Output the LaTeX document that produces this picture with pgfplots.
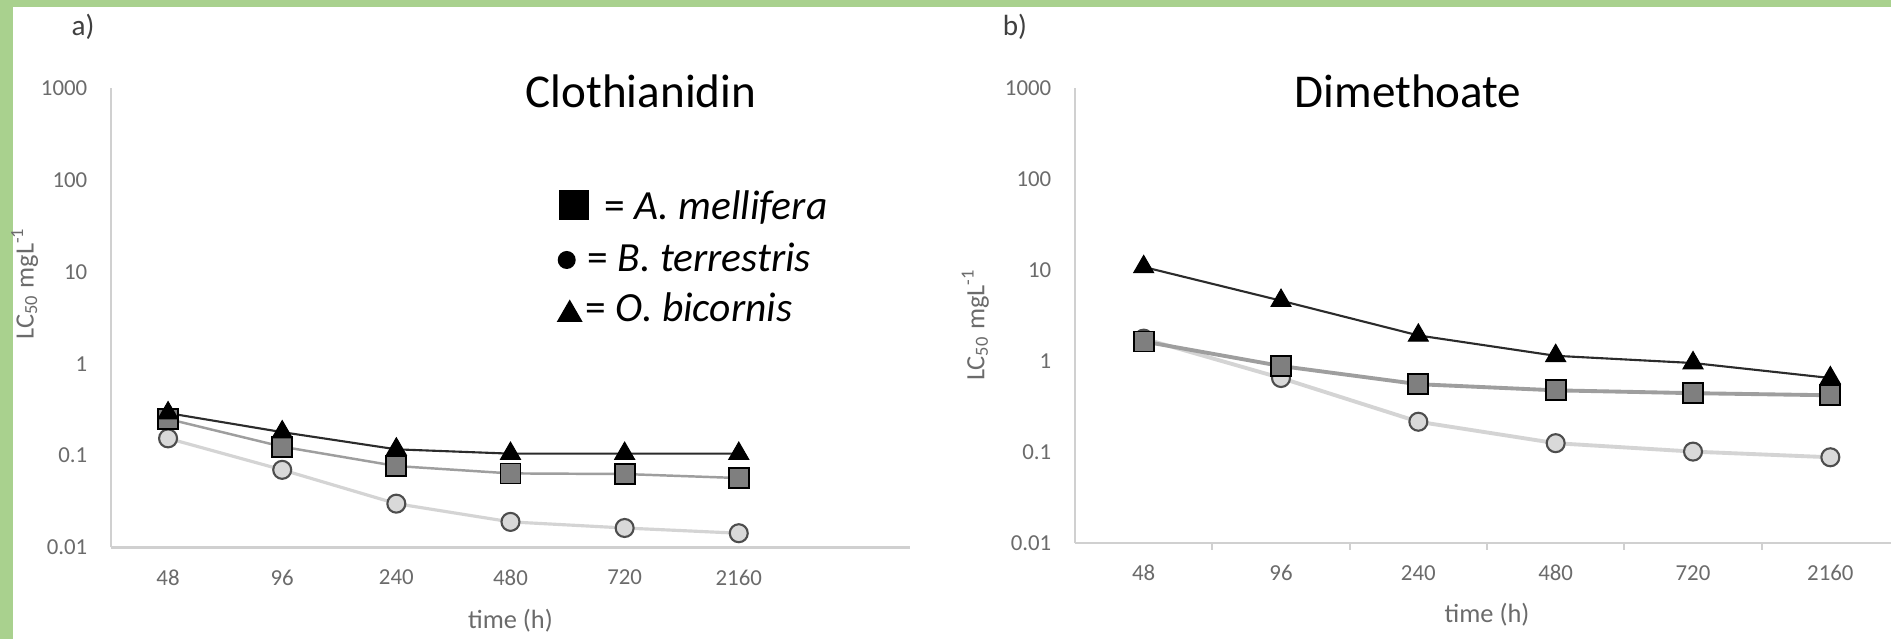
\documentclass[border=0pt]{standalone}
\usepackage{pgfplots}
\usepackage{pgfplotstable}
\pgfplotsset{compat=1.18}
\usepackage{fontspec}
\setmainfont{Carlito}

\definecolor{frame}{HTML}{A9D18E}
\definecolor{axisgray}{HTML}{D0D0D0}
\definecolor{ticktext}{HTML}{6B6B6B}
\definecolor{paneltext}{HTML}{404040}
\definecolor{sqfill}{HTML}{7F7F7F}
\definecolor{sqline}{HTML}{9E9E9E}
\definecolor{cifill}{HTML}{D9D9D9}
\definecolor{ciedge}{HTML}{4D4D4D}
\definecolor{ciline}{HTML}{D4D4D4}
\definecolor{trline}{HTML}{2B2B2B}

% LC50 (mg/L) at 48, 96, 240, 480, 720 and 2160 h
\pgfplotstableread{
x mel ter bic
0 0.25  0.154  0.29
1 0.125 0.070  0.18
2 0.077 0.030  0.117
3 0.064 0.019  0.105
4 0.063 0.0163 0.105
5 0.057 0.0143 0.105
}\clothianidin

\pgfplotstableread{
x mel ter bic
0 1.64  1.76   10.8
1 0.88  0.65   4.6
2 0.556 0.215  1.91
3 0.476 0.125  1.14
4 0.443 0.101  0.95
5 0.42  0.0875 0.65
}\dimethoate

\begin{document}
\begin{tikzpicture}
  % frame
  \fill[frame] (0,0) rectangle (189.1mm,-63.9mm);
  \fill[white] (1.3mm,-0.7mm) rectangle (189.1mm,-63.9mm);

  % a) Clothianidin
  \begin{axis}[
      at={(11.1mm,-54.75mm)}, anchor=south west,
      scale only axis, clip=false,
      width=79.9mm, height=45.95mm,
      xmin=-0.5, xmax=6.5,
      ymode=log, ymin=0.01, ymax=1000,
      axis x line*=bottom, axis y line*=left,
      axis line style={axisgray, line width=0.6pt},
      xtick={0,1,2,3,4,5}, xticklabels={48,96,240,480,720,2160},
      ytick={0.01,0.1,1,10,100,1000},
      yticklabels={0.01,0.1,1,10,100,1000},
      minor tick num=0,
      major tick length=0pt, minor tick length=0pt,
      tick label style={font=\fontsize{6.5}{7}\selectfont, text=ticktext},
      xticklabel style={anchor=center, inner sep=0pt, yshift=-3mm},
      yticklabel style={anchor=east, inner sep=0pt, xshift=-2.3mm},
      xlabel={time (h)},
      ylabel={LC\textsubscript{50} mgL\textsuperscript{-1}},
      xlabel style={font=\fontsize{7.5}{8}\selectfont, text=ticktext,
        at={(axis description cs:0.5,-0.159)}, anchor=center},
      ylabel style={font=\fontsize{7.5}{8}\selectfont, text=ticktext,
        at={(axis description cs:-0.108,0.575)}, anchor=center},
    ]
    \addplot[color=ciline, line width=0.9pt, mark=*, mark size=0.9mm,
      mark options={fill=cifill, draw=ciedge, line width=0.6pt}]
      table[x=x, y=ter] {\clothianidin};
    \addplot[color=sqline, line width=0.7pt, mark=square*, mark size=1mm,
      mark options={fill=sqfill, draw=black, line width=0.5pt}]
      table[x=x, y=mel] {\clothianidin};
    \addplot[color=trline, line width=0.6pt, mark=triangle*, mark size=1.15mm,
      mark options={fill=black, draw=black, line width=0.3pt}]
      table[x=x, y=bic] {\clothianidin};
  \end{axis}

  % b) Dimethoate
  \begin{axis}[
      at={(107.5mm,-54.3mm)}, anchor=south west,
      scale only axis, clip=false,
      width=82.4mm, height=45.5mm,
      xmin=-0.5, xmax=5.5,
      ymode=log, ymin=0.01, ymax=1000,
      axis x line*=bottom, axis y line*=left,
      axis line style={axisgray, line width=0.6pt},
      xtick={0,1,2,3,4,5}, xticklabels={48,96,240,480,720,2160},
      ytick={0.01,0.1,1,10,100,1000},
      yticklabels={0.01,0.1,1,10,100,1000},
      minor tick num=0,
      major tick length=0pt, minor tick length=0pt,
      extra x ticks={0.5,1.5,2.5,3.5,4.5}, extra x tick labels={},
      extra x tick style={major tick length=0.7mm, tick align=outside,
        tick style={axisgray, line width=0.5pt}},
      tick label style={font=\fontsize{6.5}{7}\selectfont, text=ticktext},
      xticklabel style={anchor=center, inner sep=0pt, yshift=-3mm},
      yticklabel style={anchor=east, inner sep=0pt, xshift=-2.3mm},
      xlabel={time (h)},
      ylabel={LC\textsubscript{50} mgL\textsuperscript{-1}},
      xlabel style={font=\fontsize{7.5}{8}\selectfont, text=ticktext,
        at={(axis description cs:0.5,-0.158)}, anchor=center},
      ylabel style={font=\fontsize{7.5}{8}\selectfont, text=ticktext,
        at={(axis description cs:-0.121,0.48)}, anchor=center},
    ]
    \addplot[color=ciline, line width=1.1pt, mark=*, mark size=0.9mm,
      mark options={fill=cifill, draw=ciedge, line width=0.6pt}]
      table[x=x, y=ter] {\dimethoate};
    \addplot[color=sqline, line width=1.1pt, mark=square*, mark size=1mm,
      mark options={fill=sqfill, draw=black, line width=0.5pt}]
      table[x=x, y=mel] {\dimethoate};
    \addplot[color=trline, line width=0.6pt, mark=triangle*, mark size=1.15mm,
      mark options={fill=black, draw=black, line width=0.3pt}]
      table[x=x, y=bic] {\dimethoate};
  \end{axis}

  % panel letters
  \node[text=paneltext, font=\fontsize{8.3}{9}\selectfont] at (8.3mm,-2.7mm) {a)};
  \node[text=paneltext, font=\fontsize{8.3}{9}\selectfont] at (101.5mm,-2.7mm) {b)};

  % titles
  \node[anchor=base, font=\fontsize{13.4}{15}\selectfont] at (64.1mm,-10.75mm) {Clothianidin};
  \node[anchor=base, font=\fontsize{13.4}{15}\selectfont] at (140.8mm,-10.8mm) {Dimethoate};

  % species key
  \node[anchor=base west, inner sep=0pt, font=\fontsize{11.8}{13}\selectfont]
    at (55.8mm,-22.0mm)
    {\tikz\fill (0,0) rectangle (3.0mm,3.0mm);\hspace{1.6mm}= \textit{A. mellifera}};
  \node[anchor=base west, inner sep=0pt, font=\fontsize{11.8}{13}\selectfont]
    at (55.7mm,-27.2mm)
    {\raisebox{0.3mm}{\tikz\fill (0,0) circle (0.9mm);}\hspace{1.2mm}= \textit{B. terrestris}};
  \node[anchor=base west, inner sep=0pt, font=\fontsize{11.8}{13}\selectfont]
    at (55.6mm,-32.2mm)
    {\tikz\fill (0,0) -- (2.6mm,0) -- (1.3mm,2.25mm) -- cycle;\hspace{0.3mm}= \textit{O. bicornis}};

  \pgfresetboundingbox
  \useasboundingbox (0,0) rectangle (189.1mm,-63.9mm);
\end{tikzpicture}
\end{document}
